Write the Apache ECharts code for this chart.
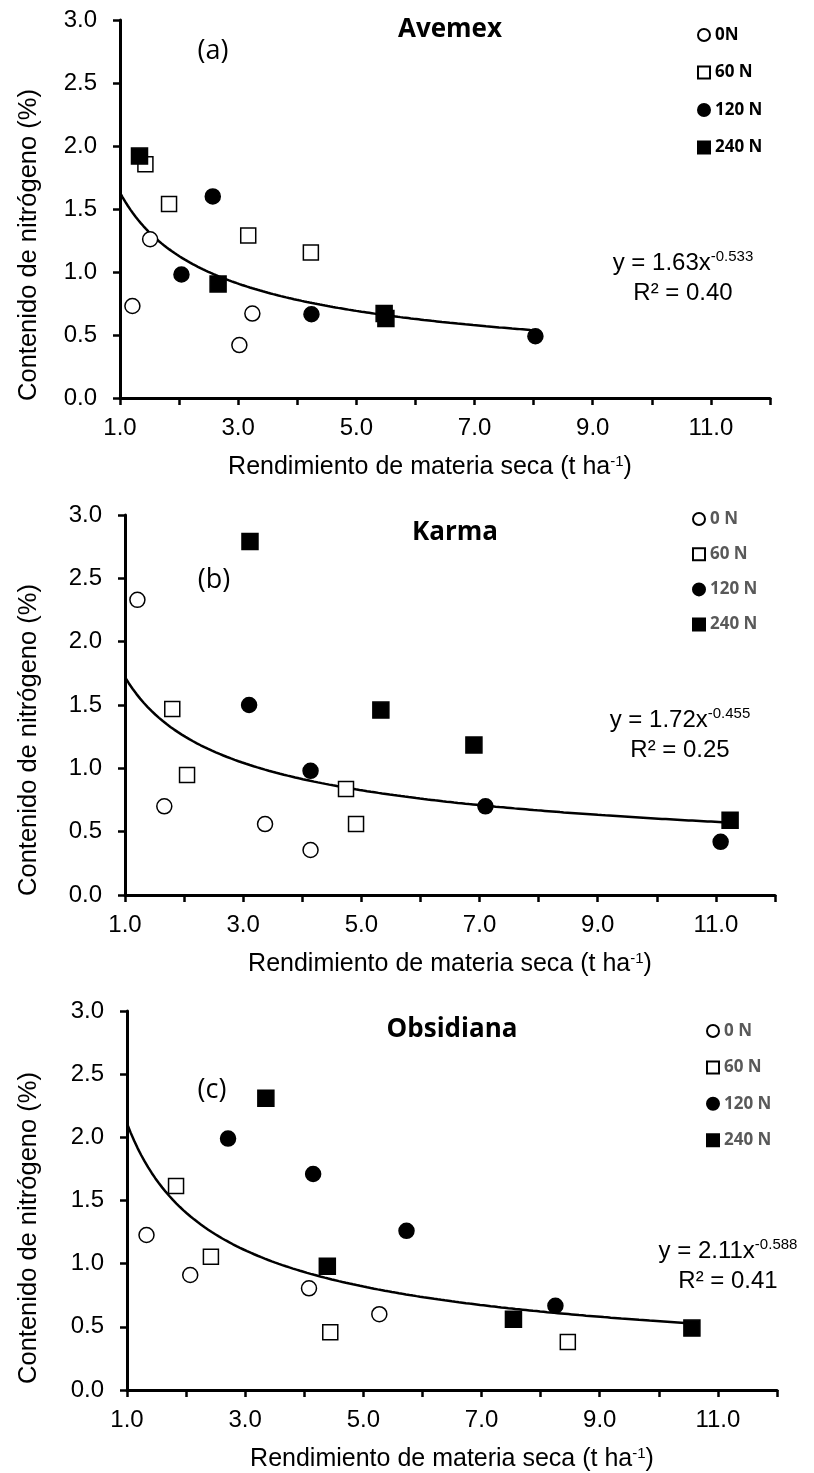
<!DOCTYPE html>
<html>
<head>
<meta charset="utf-8">
<script src="https://cdn.jsdelivr.net/npm/echarts@6/dist/echarts.min.js"></script>
<style>
  html, body { margin: 0; padding: 0; background: #ffffff; }
  #chart { width: 814px; height: 1473px; }
</style>
</head>
<body>
<div id="chart"></div>
<script>
// ---- Data ---------------------------------------------------------------
const cultivars = ['Avemex', 'Karma', 'Obsidiana'];
const panelTags = ['(a)', '(b)', '(c)'];
const doseNamesA = ['0N', '60 N', '120 N', '240 N'];
const doseNamesBC = ['0 N', '60 N', '120 N', '240 N'];

// [dry matter yield (t/ha), nitrogen content (%)]
const avemex0N   = [[1.21, 0.73], [1.51, 1.26], [3.02, 0.42], [3.24, 0.67]];
const avemex60N  = [[1.43, 1.855], [1.83, 1.54], [3.17, 1.29], [4.23, 1.155]];
const avemex120N = [[2.04, 0.98], [2.57, 1.60], [4.24, 0.665], [8.03, 0.49]];
const avemex240N = [[1.33, 1.92], [2.66, 0.905], [5.47, 0.67], [5.50, 0.63]];

const karma0N   = [[1.21, 2.33], [1.665, 0.70], [3.37, 0.56], [4.14, 0.355]];
const karma60N  = [[1.80, 1.468], [2.05, 0.947], [4.74, 0.837], [4.91, 0.56]];
const karma120N = [[3.10, 1.50], [4.14, 0.98], [7.10, 0.70], [11.08, 0.42]];
const karma240N = [[3.115, 2.79], [5.33, 1.46], [6.905, 1.184], [11.24, 0.59]];

const obsidiana0N   = [[1.33, 1.227], [2.07, 0.91], [4.08, 0.805], [5.27, 0.60]];
const obsidiana60N  = [[1.83, 1.615], [2.42, 1.055], [4.44, 0.457], [8.46, 0.38]];
const obsidiana120N = [[2.71, 1.99], [4.15, 1.71], [5.73, 1.26], [8.25, 0.667]];
const obsidiana240N = [[3.35, 2.31], [4.39, 0.98], [7.54, 0.56], [10.56, 0.49]];

// Power fits y = a * x^b for each cultivar
const fitCoef = [1.63, 1.72, 2.11];
const fitExp = [-0.533, -0.455, -0.588];
const fitR2 = ['0.40', '0.25', '0.41'];
const fitXRange = [[1, 8.03], [1, 11.24], [1, 10.56]];

// Tick labels
const xTickLabels = ['1.0', '3.0', '5.0', '7.0', '9.0', '11.0'];
const yTickLabels = ['0.0', '0.5', '1.0', '1.5', '2.0', '2.5', '3.0'];

// ---- Layout -------------------------------------------------------------
const panelLayout = [
  { grid: { left: 120, top: 20, width: 650, height: 378 },
    title: [450, 30], tag: [213, 51], eq: [683, 263], yTitle: [29, 245], xTitleShift: 30,
    legend: { left: 697, top: 26, gap: 19.5, color: '#000000' } },
  { grid: { left: 125, top: 515, width: 650, height: 380 },
    title: [455, 533], tag: [214, 580], eq: [680, 720], yTitle: [29, 740], xTitleShift: 0,
    legend: { left: 692, top: 510, gap: 17.2, color: '#595959' } },
  { grid: { left: 127, top: 1011, width: 650, height: 379 },
    title: [452, 1030], tag: [212, 1090], eq: [728, 1251], yTitle: [29, 1228], xTitleShift: 0,
    legend: { left: 706, top: 1022, gap: 18.4, color: '#595959' } }
];

const panelData = [
  [avemex0N, avemex60N, avemex120N, avemex240N],
  [karma0N, karma60N, karma120N, karma240N],
  [obsidiana0N, obsidiana60N, obsidiana120N, obsidiana240N]
];
const panelDoseNames = [doseNamesA, doseNamesBC, doseNamesBC];

const markerSymbol = ['circle', 'rect', 'circle', 'rect'];
const markerFill = ['#ffffff', '#ffffff', '#000000', '#000000'];
const markerSize = [15, 15, 15, 16];

const SANS = '"Liberation Sans", Arial, sans-serif';
const CAL = '"Open Sans", "Noto Sans", sans-serif';

function fitCurve(i) {
  const [x0, x1] = fitXRange[i];
  const pts = [];
  const n = 160;
  for (let k = 0; k <= n; k++) {
    const x = x0 + (x1 - x0) * k / n;
    pts.push([x, fitCoef[i] * Math.pow(x, fitExp[i])]);
  }
  return pts;
}

const grids = [], xAxes = [], yAxes = [], series = [], legends = [], graphics = [];

panelLayout.forEach((L, i) => {
  grids.push(Object.assign({ containLabel: false, outerBoundsMode: 'none' }, L.grid));

  xAxes.push({
    type: 'value', gridIndex: i, min: 1, max: 12, interval: 1,
    splitLine: { show: false },
    axisLine: { onZero: false, lineStyle: { color: '#000', width: 3 } },
    axisTick: { show: true, length: 7, lineStyle: { color: '#000', width: 2.5 } },
    axisLabel: {
      margin: 18, fontFamily: SANS, fontSize: 24, color: '#000',
      formatter: v => { const s = v.toFixed(1); return xTickLabels.includes(s) ? s : ''; }
    },
    name: 'Rendimiento de materia seca (t ha{sup|-1})',
    nameLocation: 'middle', nameGap: 56,
    nameTextStyle: {
      fontFamily: SANS, fontSize: 25, color: '#000', lineHeight: 26,
      padding: [0, L.xTitleShift, 0, 0],
      rich: { sup: { fontFamily: SANS, fontSize: 15, lineHeight: 14, verticalAlign: 'top', color: '#000' } }
    }
  });

  yAxes.push({
    type: 'value', gridIndex: i, min: 0, max: 3, interval: 0.5,
    splitLine: { show: false },
    axisLine: { show: true, lineStyle: { color: '#000', width: 3 } },
    axisTick: { show: true, length: 7, lineStyle: { color: '#000', width: 2.5 } },
    axisLabel: {
      margin: 23, fontFamily: SANS, fontSize: 24, color: '#000',
      formatter: v => { const s = v.toFixed(1); return yTickLabels.includes(s) ? s : ''; }
    }
  });

  // fitted power curve
  series.push({
    type: 'line', name: 'Ajuste ' + cultivars[i], xAxisIndex: i, yAxisIndex: i,
    data: fitCurve(i), showSymbol: false, symbol: 'none', silent: true, z: 2,
    lineStyle: { color: '#000', width: 2.5 }
  });

  // observations by N dose
  panelData[i].forEach((pts, j) => {
    series.push({
      type: 'scatter', name: panelDoseNames[i][j], xAxisIndex: i, yAxisIndex: i,
      data: pts, symbol: markerSymbol[j], symbolSize: markerSize[j], z: 3 + j,
      itemStyle: { color: markerFill[j], borderColor: '#000', borderWidth: 1.5, opacity: 1 }
    });
  });

  legends.push({
    orient: 'vertical', left: L.legend.left, top: L.legend.top,
    itemWidth: 12, itemHeight: 12, itemGap: L.legend.gap, padding: 0,
    selectedMode: false,
    textStyle: { fontFamily: CAL, fontWeight: 'bold', fontSize: 17, lineHeight: 18, color: L.legend.color },
    data: panelDoseNames[i].map((n, j) => ({ name: n, icon: markerSymbol[j] === 'rect' ? 'rect' : 'circle' }))
  });

  // cultivar name
  graphics.push({
    type: 'text', x: L.title[0], y: L.title[1], z: 10,
    style: { text: cultivars[i], fontFamily: CAL, fontWeight: 'bold', fontSize: 26, fill: '#000',
             textAlign: 'center', align: 'center', textVerticalAlign: 'middle', verticalAlign: 'middle' }
  });
  // panel tag
  graphics.push({
    type: 'text', x: L.tag[0], y: L.tag[1], z: 10,
    style: { text: panelTags[i], fontFamily: CAL, fontSize: 27, fill: '#000',
             textAlign: 'center', align: 'center', textVerticalAlign: 'middle', verticalAlign: 'middle' }
  });
  // fit equation and R²
  graphics.push({
    type: 'text', x: L.eq[0], y: L.eq[1], z: 10,
    style: {
      text: 'y = ' + fitCoef[i].toFixed(2) + 'x{sup|' + fitExp[i].toFixed(3) + '}',
      fontFamily: SANS, fontSize: 24, lineHeight: 28, fill: '#000',
      textAlign: 'center', align: 'center', textVerticalAlign: 'middle', verticalAlign: 'middle',
      rich: { sup: { fontFamily: SANS, fontSize: 15, lineHeight: 14, verticalAlign: 'top', fill: '#000', color: '#000' } }
    }
  });
  graphics.push({
    type: 'text', x: L.eq[0], y: L.eq[1] + 30, z: 10,
    style: { text: 'R² = ' + fitR2[i], fontFamily: SANS, fontSize: 24, fill: '#000',
             textAlign: 'center', align: 'center', textVerticalAlign: 'middle', verticalAlign: 'middle' }
  });
  // y axis title
  graphics.push({
    type: 'text', x: L.yTitle[0], y: L.yTitle[1], rotation: Math.PI / 2, z: 10,
    style: { text: 'Contenido de nitrógeno (%)', fontFamily: SANS, fontSize: 25.5, fill: '#000',
             textAlign: 'center', align: 'center', textVerticalAlign: 'middle', verticalAlign: 'middle' }
  });
});

const chart = echarts.init(document.getElementById('chart'), null, { renderer: 'canvas' });
chart.setOption({
  animation: false,
  backgroundColor: '#ffffff',
  grid: grids,
  xAxis: xAxes,
  yAxis: yAxes,
  legend: legends,
  series: series,
  graphic: { elements: graphics }
});
</script>
</body>
</html>
